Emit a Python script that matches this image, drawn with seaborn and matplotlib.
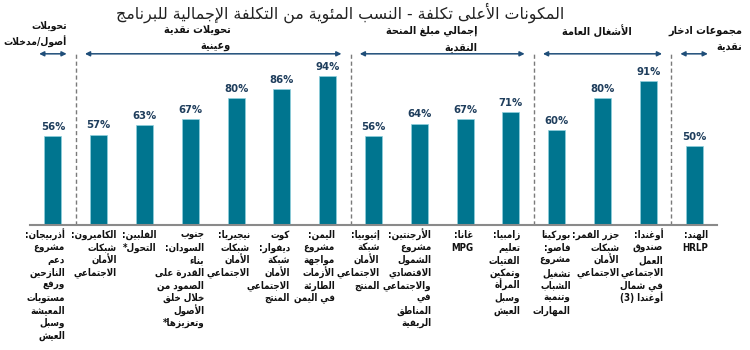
import matplotlib
matplotlib.use("Agg")
import matplotlib.pyplot as plt
import seaborn as sns
import pandas as pd
from matplotlib import font_manager

# ---------------- data ----------------
countries = ["Azerbaijan", "Cameroon", "Philippines", "South Sudan", "Nigeria",
             "Cote d'Ivoire", "Yemen", "Ethiopia", "Argentina", "Ghana", "Zambia",
             "Burkina Faso", "Comoros", "Uganda", "India"]
values = [56, 57, 63, 67, 80, 86, 94, 56, 64, 67, 71, 60, 80, 91, 50]
bar_labels = [
    "أذربيجان:\nمشروع\nدعم\nالنازحين\nورفع\nمستويات\nالمعيشة\nوسبل\nالعيش",
    "الكاميرون:\nشبكات\nالأمان\nالاجتماعي",
    "الفلبين:\nالتحول*",
    "جنوب\nالسودان:\nبناء\nالقدرة على\nالصمود من\nخلال خلق\nالأصول\nوتعزيزها*",
    "نيجيريا:\nشبكات\nالأمان\nالاجتماعي",
    "كوت\nديفوار:\nشبكة\nالأمان\nالاجتماعي\nالمنتج",
    "اليمن:\nمشروع\nمواجهة\nالأزمات\nالطارئة\nفي اليمن",
    "إثيوبيا:\nشبكة\nالأمان\nالاجتماعي\nالمنتج",
    "الأرجنتين:\nمشروع\nالشمول\nالاقتصادي\nوالاجتماعي\nفي\nالمناطق\nالريفية",
    "غانا:\nMPG",
    "زامبيا:\nتعليم\nالفتيات\nوتمكين\nالمرأة\nوسبل\nالعيش",
    "بوركينا\nفاصو:\nمشروع\nتشغيل\nالشباب\nوتنمية\nالمهارات",
    "جزر القمر:\nشبكات\nالأمان\nالاجتماعي",
    "أوغندا:\nصندوق\nالعمل\nالاجتماعي\nفي شمال\nأوغندا (3)",
    "الهند:\nHRLP",
]
group_names = ["تحويلات\nأصول/مدخلات", "تحويلات نقدية\nوعينية",
               "إجمالي مبلغ المنحة\nالنقدية", "الأشغال العامة",
               "مجموعات ادخار\nنقدية"]
group_sizes = [1, 6, 4, 3, 1]
title = "المكونات الأعلى تكلفة - النسب المئوية من التكلفة الإجمالية للبرنامج"

# ---------------- minimal Arabic shaping (presentation forms + RTL order) ----
_FORMS = {
    '\u0621': (0xFE80, 1), '\u0622': (0xFE81, 2), '\u0623': (0xFE83, 2),
    '\u0624': (0xFE85, 2), '\u0625': (0xFE87, 2), '\u0626': (0xFE89, 4),
    '\u0627': (0xFE8D, 2), '\u0628': (0xFE8F, 4), '\u0629': (0xFE93, 2),
    '\u062A': (0xFE95, 4), '\u062B': (0xFE99, 4), '\u062C': (0xFE9D, 4),
    '\u062D': (0xFEA1, 4), '\u062E': (0xFEA5, 4), '\u062F': (0xFEA9, 2),
    '\u0630': (0xFEAB, 2), '\u0631': (0xFEAD, 2), '\u0632': (0xFEAF, 2),
    '\u0633': (0xFEB1, 4), '\u0634': (0xFEB5, 4), '\u0635': (0xFEB9, 4),
    '\u0636': (0xFEBD, 4), '\u0637': (0xFEC1, 4), '\u0638': (0xFEC5, 4),
    '\u0639': (0xFEC9, 4), '\u063A': (0xFECD, 4), '\u0641': (0xFED1, 4),
    '\u0642': (0xFED5, 4), '\u0643': (0xFED9, 4), '\u0644': (0xFEDD, 4),
    '\u0645': (0xFEE1, 4), '\u0646': (0xFEE5, 4), '\u0647': (0xFEE9, 4),
    '\u0648': (0xFEED, 2), '\u0649': (0xFEEF, 2), '\u064A': (0xFEF1, 4),
}
_LAMALEF = {'\u0622': 0xFEF5, '\u0623': 0xFEF7, '\u0625': 0xFEF9, '\u0627': 0xFEFB}


def _shape_word(w):
    out, i, prev_dual, n = [], 0, False, len(w)
    while i < n:
        c = w[i]
        if c == '\u0644' and i + 1 < n and w[i + 1] in _LAMALEF:
            iso = _LAMALEF[w[i + 1]]
            out.append(chr(iso + 1 if prev_dual else iso))
            prev_dual = False
            i += 2
            continue
        if c in _FORMS:
            base, nf = _FORMS[c]
            nxt = w[i + 1] if i + 1 < n else ''
            link_next = nf == 4 and nxt in _FORMS
            if nf == 1:
                f = base
            elif nf == 2:
                f = base + 1 if prev_dual else base
            else:
                if prev_dual and link_next:
                    f = base + 3
                elif prev_dual:
                    f = base + 1
                elif link_next:
                    f = base + 2
                else:
                    f = base
            out.append(chr(f))
            prev_dual = nf == 4
        else:
            out.append(c)
            prev_dual = False
        i += 1
    return ''.join(out)


def ar(line):
    toks = []
    for t in line.split(' '):
        if any(ch in _FORMS for ch in t):
            toks.append(_shape_word(t)[::-1])
        else:
            toks.append(t)
    return ' '.join(toks[::-1])


# ---------------- figure ----------------
sns.set_theme(style="white")
plt.rcParams['font.family'] = ['DejaVu Sans']

_names = {f.name for f in font_manager.fontManager.ttflist}
COND = 'DejaVu Sans Condensed' if 'DejaVu Sans Condensed' in _names else 'DejaVu Sans'
LBL_FONT = dict(family=[COND, 'DejaVu Sans'], fontstretch='condensed')

W, H = 750, 350
fig = plt.figure(figsize=(7.5, 3.5), dpi=100)
fig.patch.set_facecolor("white")
ax = fig.add_axes([30 / W, 125 / H, 687 / W, 158.5 / H])

df = pd.DataFrame({"country": countries, "value": values})
sns.barplot(data=df, x="country", y="value", order=countries, color="#00758F",
            saturation=1, width=0.37, edgecolor="#8fd0de", linewidth=0.5, ax=ax)

ax.set_xlim(-0.5, len(countries) - 0.5)
ax.set_ylim(0, 100)
ax.set_xlabel("")
ax.set_ylabel("")
ax.set_xticks([])
ax.set_yticks([])
for s in ["top", "right", "left"]:
    ax.spines[s].set_visible(False)
ax.spines["bottom"].set_color("#8a8a8a")
ax.spines["bottom"].set_linewidth(1.5)

# value labels
for i, v in enumerate(values):
    ax.annotate(f"{v}%", xy=(i, v), xytext=(0, 3), textcoords="offset points",
                ha="center", va="bottom", fontsize=7.3, fontweight="bold",
                color="#1E3D5C")

# category labels (line by line, right aligned under bars)
label_shift_px = [12, 18, 12, 14, 14, 8, 7, 6, 12, 8, 9, 14, 17, 15, 14]
for i, lab in enumerate(bar_labels):
    for k, line in enumerate(lab.split("\n")):
        ax.annotate(ar(line), xy=(i, 0), xycoords="data",
                    xytext=(label_shift_px[i], -10 - k * 12.6),
                    textcoords="offset pixels",
                    ha="right", va="center", fontsize=7.0, fontweight="bold",
                    color="#111111", annotation_clip=False, **LBL_FONT)

# group separators and arrows
start = 0
bounds = []
for g in group_sizes:
    bounds.append((start, start + g - 1))
    start += g
for (a, b) in bounds[1:]:
    ax.plot([a - 0.5, a - 0.5], [0, 109], ls=(0, (3, 2)), color="#7a7a7a",
            lw=1.0, clip_on=False)
for (a, b) in bounds:
    ax.annotate("", xy=(a - 0.3, 108), xytext=(b + 0.3, 108),
                arrowprops=dict(arrowstyle="<|-|>", color="#1F4E79", lw=1.1,
                                mutation_scale=7, shrinkA=0, shrinkB=0),
                annotation_clip=False)

# group headers (figure pixel anchors)
header_right_px = [67, 231, 477, 632, 742]
header_y_px = [26, 30, 31, 31, 31]
header_size = [7.4, 7.8, 7.8, 7.8, 7.8]
for name, xr, yc, fs in zip(group_names, header_right_px, header_y_px, header_size):
    for k, line in enumerate(name.split("\n")):
        fig.text(xr / W, 1 - (yc + k * 16) / H, ar(line), ha="right",
                 va="center", fontsize=fs, fontweight="bold", color="#111111",
                 **LBL_FONT)

fig.text(340 / W, 1 - 13 / H, ar(title), ha="center", va="center",
         fontsize=11.4, color="#222222")

fig.savefig("out.png", dpi=100, facecolor="white")
